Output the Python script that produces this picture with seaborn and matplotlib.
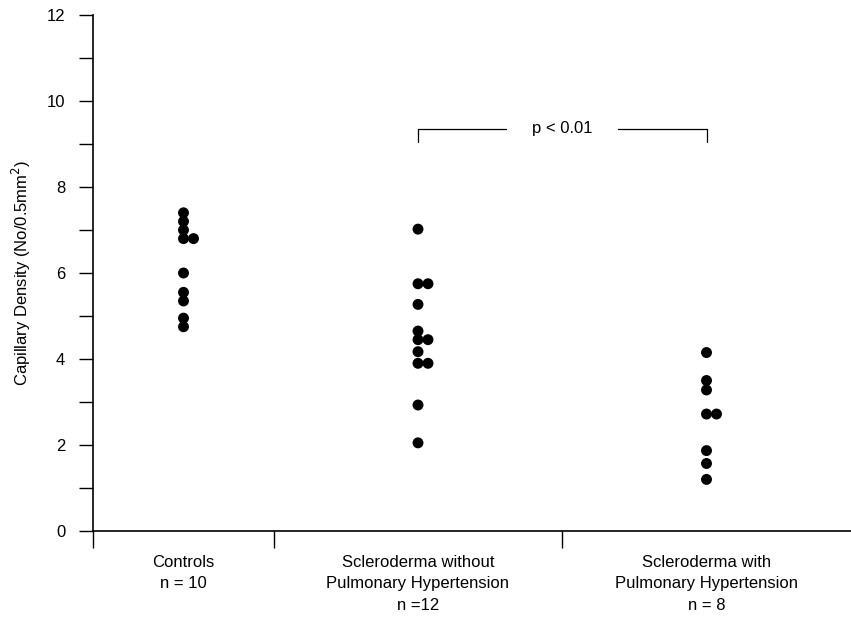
import matplotlib
matplotlib.use('Agg')
import matplotlib.pyplot as plt
import seaborn as sns
import numpy as np
import pandas as pd

# данные
groups = ['Controls', 'Scleroderma without PH', 'Scleroderma with PH']
group_labels = ['Controls\nn = 10',
                'Scleroderma without\nPulmonary Hypertension\nn =12',
                'Scleroderma with\nPulmonary Hypertension\nn = 8']
controls = [7.4, 7.2, 7.0, 6.8, 6.8, 6.0, 5.55, 5.35, 4.95, 4.75]
scl_no_ph = [7.02, 5.75, 5.75, 5.27, 4.65, 4.45, 4.45, 4.17, 3.9, 3.9, 2.93, 2.05]
scl_ph = [4.15, 3.5, 3.28, 2.72, 2.72, 1.87, 1.57, 1.2]
p_text = 'p < 0.01'
p_level = 9.35

# ширина "ячеек" по оси x (в пикселях исходника)
bin_widths = [181, 288, 289]
dup_shift = 10

edges = np.concatenate([[0], np.cumsum(bin_widths)])
centers = (edges[:-1] + edges[1:]) / 2

rows = []
for g, c, vals in zip(groups, centers, [controls, scl_no_ph, scl_ph]):
    seen = {}
    for v in vals:
        k = seen.get(v, 0)
        seen[v] = k + 1
        rows.append({'group': g, 'x': c + k * dup_shift, 'value': v})
df = pd.DataFrame(rows)

sns.set_style('ticks')
plt.rcParams['font.family'] = ['Liberation Sans', 'DejaVu Sans']
plt.rcParams['text.color'] = 'black'
plt.rcParams['axes.labelcolor'] = 'black'
plt.rcParams['xtick.color'] = 'black'
plt.rcParams['ytick.color'] = 'black'

fig = plt.figure(figsize=(8.51, 6.27), dpi=100)
ax = fig.add_axes([93 / 851, 96 / 627, 758 / 851, 516 / 627])

sns.scatterplot(data=df, x='x', y='value', color='black', s=62,
                edgecolor='none', legend=False, ax=ax)

ax.set_xlim(edges[0], edges[-1])
ax.set_ylim(0, 12)
ax.set_xticks(edges[:-1])
ax.set_xticklabels([])
ax.set_xticks(centers, minor=True)
ax.set_xticklabels(group_labels, minor=True, fontsize=12, linespacing=1.55)
ax.tick_params(axis='x', which='major', direction='out', length=12, width=1)
ax.tick_params(axis='x', which='minor', length=0, pad=17)

ax.set_yticks(np.arange(0, 13, 2))
ax.set_yticks(np.arange(1, 13, 2), minor=True)
ax.tick_params(axis='y', which='both', direction='out', length=10, width=1,
               labelsize=12, pad=10)
ax.set_xlabel('')
ax.set_ylabel('Capillary Density (No/0.5mm$^2$)', fontsize=12, labelpad=10)

for side in ['top', 'right']:
    ax.spines[side].set_visible(False)
for side in ['left', 'bottom']:
    ax.spines[side].set_linewidth(1.2)
    ax.spines[side].set_color('black')

# скобка значимости
x1, x2 = centers[1], centers[2]
ax.plot([x1, x1, x2, x2], [p_level - 0.3, p_level, p_level, p_level - 0.3],
        color='black', linewidth=0.9, clip_on=False)
ax.text((x1 + x2) / 2, p_level, p_text, ha='center', va='center', fontsize=12,
        bbox=dict(boxstyle='square,pad=1.5', facecolor='white', edgecolor='none'))

fig.savefig('out.png', dpi=100)
plt.close(fig)
